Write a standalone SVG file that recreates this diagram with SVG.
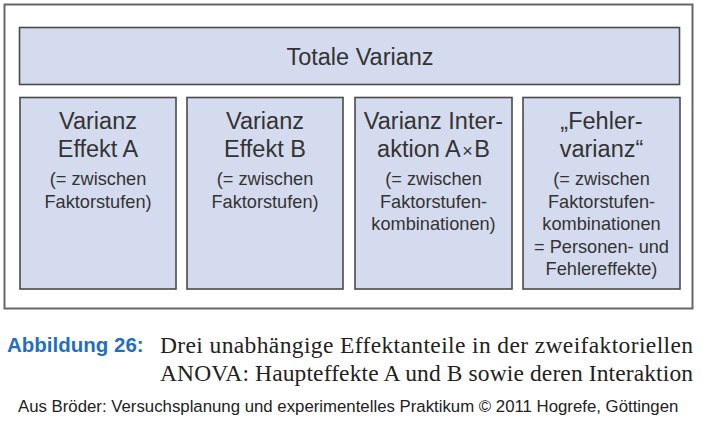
<svg xmlns="http://www.w3.org/2000/svg" width="702" height="421" viewBox="0 0 702 421">
  <style>
    .frame { fill: #ffffff; stroke: #666666; stroke-width: 2; }
    .box { fill: #d5dbee; stroke: #4a4a4a; stroke-width: 1.6; }
    .big { font-family: "Liberation Sans", Arial, sans-serif; font-size: 23.5px; fill: #333333; text-anchor: middle; }
    .small { font-family: "Liberation Sans", Arial, sans-serif; font-size: 18.2px; fill: #333333; text-anchor: middle; }
    .caplabel { font-family: "Liberation Sans", Arial, sans-serif; font-size: 20.5px; font-weight: bold; fill: #1f6fc0; }
    .captext { font-family: "Liberation Serif", "Times New Roman", serif; font-size: 23.5px; fill: #222222; }
    .source { font-family: "Liberation Sans", Arial, sans-serif; font-size: 16.8px; fill: #222222; }
  </style>
  <rect width="702" height="421" fill="#ffffff"/>

  <!-- outer frame -->
  <rect class="frame" x="4.5" y="4.5" width="688" height="304"/>

  <g id="totale-varianz">
    <rect class="box" x="19.5" y="27.5" width="660" height="57"/>
    <text class="big" x="360" y="65">Totale Varianz</text>
  </g>

  <g id="effekt-a">
    <rect class="box" x="20" y="97.5" width="156" height="191.5"/>
    <text class="big" x="98" y="129">Varianz</text>
    <text class="big" x="98" y="157">Effekt A</text>
    <text class="small" x="98" y="185">(= zwischen</text>
    <text class="small" x="98" y="207.5">Faktorstufen)</text>
  </g>

  <g id="effekt-b">
    <rect class="box" x="187" y="97.5" width="156" height="191.5"/>
    <text class="big" x="265" y="129">Varianz</text>
    <text class="big" x="265" y="157">Effekt B</text>
    <text class="small" x="265" y="185">(= zwischen</text>
    <text class="small" x="265" y="207.5">Faktorstufen)</text>
  </g>

  <g id="interaktion">
    <rect class="box" x="355" y="97.5" width="157" height="191.5"/>
    <text class="big" x="433.5" y="129">Varianz Inter-</text>
    <text class="big" x="433.5" y="157">aktion A<tspan font-size="18">&#8202;×&#8202;</tspan>B</text>
    <text class="small" x="433.5" y="185">(= zwischen</text>
    <text class="small" x="433.5" y="207.5">Faktorstufen-</text>
    <text class="small" x="433.5" y="230">kombinationen)</text>
  </g>

  <g id="fehlervarianz">
    <rect class="box" x="523" y="97.5" width="157" height="191.5"/>
    <text class="big" x="601.5" y="129">„Fehler-</text>
    <text class="big" x="601.5" y="157">varianz“</text>
    <text class="small" x="601.5" y="185">(= zwischen</text>
    <text class="small" x="601.5" y="207.5">Faktorstufen-</text>
    <text class="small" x="601.5" y="230">kombinationen</text>
    <text class="small" x="601.5" y="252.5">= Personen- und</text>
    <text class="small" x="601.5" y="275">Fehlereffekte)</text>
  </g>

  <g id="connectors"/>

  <!-- caption -->
  <text class="caplabel" x="7" y="352">Abbildung 26:</text>
  <text class="captext" x="160" y="353" textLength="533" lengthAdjust="spacing">Drei unabhängige Effektanteile in der zweifaktoriellen</text>
  <text class="captext" x="160" y="381" textLength="533" lengthAdjust="spacing">ANOVA: Haupteffekte A und B sowie deren Interaktion</text>
  <text class="source" x="18" y="412">Aus Bröder: Versuchsplanung und experimentelles Praktikum © 2011 Hogrefe, Göttingen</text>
</svg>
